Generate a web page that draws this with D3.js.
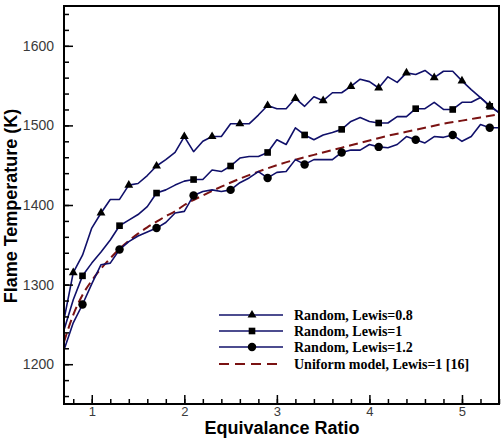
<!DOCTYPE html>
<html>
<head>
<meta charset="utf-8">
<script src="https://cdn.jsdelivr.net/npm/d3@7"></script>
<style>
  body { margin: 0; background: #fff; }
  svg { display: block; }
</style>
</head>
<body>
<svg id="chart" width="501" height="444"></svg>
<script>
// equivalence ratio, sampled every 0.1
const PHI = [0.7, 0.8, 0.9, 1.0, 1.1, 1.2, 1.3, 1.4, 1.5, 1.6, 1.7, 1.8, 1.9, 2.0,
  2.1, 2.2, 2.3, 2.4, 2.5, 2.6, 2.7, 2.8, 2.9, 3.0, 3.1, 3.2, 3.3, 3.4, 3.5, 3.6,
  3.7, 3.8, 3.9, 4.0, 4.1, 4.2, 4.3, 4.4, 4.5, 4.6, 4.7, 4.8, 4.9, 5.0, 5.1, 5.2,
  5.3, 5.4];

const LEWIS_08 = [1256, 1315, 1337, 1371, 1390, 1407, 1407, 1425, 1427, 1437, 1449,
  1457, 1466, 1486, 1467, 1480, 1486, 1486, 1502, 1502, 1502, 1513, 1525, 1521,
  1521, 1534, 1524, 1536, 1531, 1541, 1541, 1549, 1558, 1555, 1547, 1561, 1554,
  1566, 1564, 1569, 1560, 1568, 1568, 1556, 1545, 1535, 1525, 1516];

const LEWIS_10 = [1243, 1281, 1311, 1327, 1341, 1356, 1374, 1381, 1388, 1398, 1415,
  1419, 1425, 1430, 1432, 1432, 1444, 1442, 1449, 1459, 1461, 1461, 1466, 1482,
  1476, 1497, 1488, 1482, 1488, 1491, 1495, 1505, 1510, 1505, 1503, 1503, 1511,
  1511, 1521, 1521, 1529, 1520, 1520, 1529, 1529, 1535, 1524, 1516];

const LEWIS_12 = [1218, 1252, 1275, 1301, 1325, 1327, 1344, 1354, 1361, 1366, 1371,
  1378, 1390, 1392, 1412, 1417, 1419, 1417, 1419, 1428, 1434, 1442, 1434, 1441,
  1442, 1457, 1451, 1457, 1457, 1457, 1466, 1469, 1469, 1476, 1473, 1472, 1476,
  1486, 1482, 1478, 1486, 1485, 1488, 1480, 1486, 1501, 1497, 1497];

// uniform model curve
const UNIFORM_PHI = [0.7, 0.8, 0.9, 1.0, 1.1, 1.2, 1.3, 1.4, 1.5, 1.6, 1.7, 1.8, 1.9,
  2.0, 2.2, 2.4, 2.6, 2.8, 3.0, 3.2, 3.4, 3.6, 3.8, 4.0, 4.2, 4.4, 4.6, 4.8, 5.0,
  5.2, 5.4];
const UNIFORM_T = [1228, 1262, 1287, 1305, 1320, 1333, 1345, 1355, 1364, 1372, 1379,
  1386, 1392, 1400, 1412, 1423, 1433, 1442, 1450, 1457, 1463, 1469, 1475, 1481,
  1487, 1492, 1497, 1502, 1506, 1510, 1514];

const X_TICKS = [1, 2, 3, 4, 5];
const Y_TICKS = [1200, 1300, 1400, 1500, 1600];

const LEGEND_LABELS = ['Random, Lewis=0.8', 'Random, Lewis=1', 'Random, Lewis=1.2',
  'Uniform model, Lewis=1 [16]'];

const LINE_COLOR = '#10106a';
const DASH_COLOR = '#7a1212';

const svg = d3.select('#chart');
const PLOT_LEFT = 64, PLOT_RIGHT = 499, PLOT_TOP = 6, PLOT_BOTTOM = 404;

const x = d3.scaleLinear().domain([0.7, 5.4]).range([PLOT_LEFT, PLOT_RIGHT]);
const y = d3.scaleLinear().domain([1150, 1650]).range([PLOT_BOTTOM, PLOT_TOP]);

svg.append('clipPath').attr('id', 'plot-clip')
  .append('rect')
  .attr('x', PLOT_LEFT).attr('y', PLOT_TOP)
  .attr('width', PLOT_RIGHT - PLOT_LEFT).attr('height', PLOT_BOTTOM - PLOT_TOP);

const plot = svg.append('g').attr('clip-path', 'url(#plot-clip)');

const line = d3.line().x(d => x(d[0])).y(d => y(d[1]));
const smooth = d3.line().curve(d3.curveMonotoneX).x(d => x(d[0])).y(d => y(d[1]));

const series = [
  { values: LEWIS_08, symbol: d3.symbolTriangle, size: 34, start: 1, step: 3 },
  { values: LEWIS_10, symbol: d3.symbolSquare, size: 44, start: 2, step: 4 },
  { values: LEWIS_12, symbol: d3.symbolCircle, size: 56, start: 2, step: 4 }
];

plot.append('path')
  .datum(UNIFORM_PHI.map((p, i) => [p, UNIFORM_T[i]]))
  .attr('d', smooth)
  .attr('fill', 'none')
  .attr('stroke', DASH_COLOR)
  .attr('stroke-width', 2)
  .attr('stroke-dasharray', '9,5');

series.forEach(s => {
  const pts = PHI.map((p, i) => [p, s.values[i]]);
  plot.append('path')
    .datum(pts)
    .attr('d', line)
    .attr('fill', 'none')
    .attr('stroke', LINE_COLOR)
    .attr('stroke-width', 1.6)
    .attr('stroke-linejoin', 'round');

  plot.selectAll(null)
    .data(pts.filter((d, i) => i >= s.start && (i - s.start) % s.step === 0))
    .enter()
    .append('path')
    .attr('d', d3.symbol().type(s.symbol).size(s.size))
    .attr('transform', d => `translate(${x(d[0])},${y(d[1])})`)
    .attr('fill', '#000');
});

// axes: ticks point inward
const xMinor = d3.range(0.8, 5.41, 0.2).map(v => +v.toFixed(1));
const yMinor = d3.range(1160, 1650, 20);

const xAxis = svg.append('g').attr('transform', `translate(0,${PLOT_BOTTOM})`)
  .call(d3.axisBottom(x).tickValues(X_TICKS).tickSize(-9).tickPadding(3)
    .tickFormat(d3.format('d')));
xAxis.selectAll('.tick text')
  .attr('font-family', 'Liberation Sans, Arial, sans-serif')
  .attr('font-size', 13).attr('fill', '#3a3a3a');

svg.append('g').attr('transform', `translate(0,${PLOT_BOTTOM})`)
  .call(d3.axisBottom(x).tickValues(xMinor).tickSize(-5).tickFormat(''))
  .call(g => g.select('.domain').remove());

const yAxis = svg.append('g').attr('transform', `translate(${PLOT_LEFT},0)`)
  .call(d3.axisLeft(y).tickValues(Y_TICKS).tickSize(-9).tickPadding(10)
    .tickFormat(d3.format('d')));
yAxis.selectAll('.tick text')
  .attr('font-family', 'Liberation Sans, Arial, sans-serif')
  .attr('font-size', 14).attr('fill', '#3a3a3a');

svg.append('g').attr('transform', `translate(${PLOT_LEFT},0)`)
  .call(d3.axisLeft(y).tickValues(yMinor).tickSize(-5).tickFormat(''))
  .call(g => g.select('.domain').remove());

svg.selectAll('.tick line').attr('stroke', '#000').attr('stroke-width', 1.5);
svg.selectAll('.domain').remove();

// frame
svg.append('rect')
  .attr('x', PLOT_LEFT).attr('y', PLOT_TOP)
  .attr('width', PLOT_RIGHT - PLOT_LEFT).attr('height', PLOT_BOTTOM - PLOT_TOP)
  .attr('fill', 'none').attr('stroke', '#000').attr('stroke-width', 2);

// axis titles
svg.append('text')
  .attr('x', 282).attr('y', 434)
  .attr('text-anchor', 'middle')
  .attr('font-family', 'Liberation Sans, Arial, sans-serif')
  .attr('font-weight', 'bold').attr('font-size', 18)
  .text('Equivalance Ratio');

svg.append('text')
  .attr('transform', 'translate(17,206) rotate(-90)')
  .attr('text-anchor', 'middle')
  .attr('font-family', 'Liberation Sans, Arial, sans-serif')
  .attr('font-weight', 'bold').attr('font-size', 18)
  .text('Flame Temperature (K)');

// legend
const legendRows = [315, 331, 347, 364];
const legend = svg.append('g');
LEGEND_LABELS.forEach((label, i) => {
  const yy = legendRows[i];
  const dashed = i === 3;
  legend.append('line')
    .attr('x1', 219).attr('x2', 283).attr('y1', yy).attr('y2', yy)
    .attr('stroke', dashed ? DASH_COLOR : LINE_COLOR)
    .attr('stroke-width', dashed ? 2 : 1.6)
    .attr('stroke-dasharray', dashed ? '10,6' : null);
  if (!dashed) {
    legend.append('path')
      .attr('d', d3.symbol().type(series[i].symbol).size(series[i].size)())
      .attr('transform', `translate(252,${yy})`)
      .attr('fill', '#000');
  }
  legend.append('text')
    .attr('x', 294).attr('y', yy + 5)
    .attr('font-family', 'Liberation Serif, Times New Roman, serif')
    .attr('font-weight', 'bold').attr('font-size', 14)
    .text(label);
});
</script>
</body>
</html>
